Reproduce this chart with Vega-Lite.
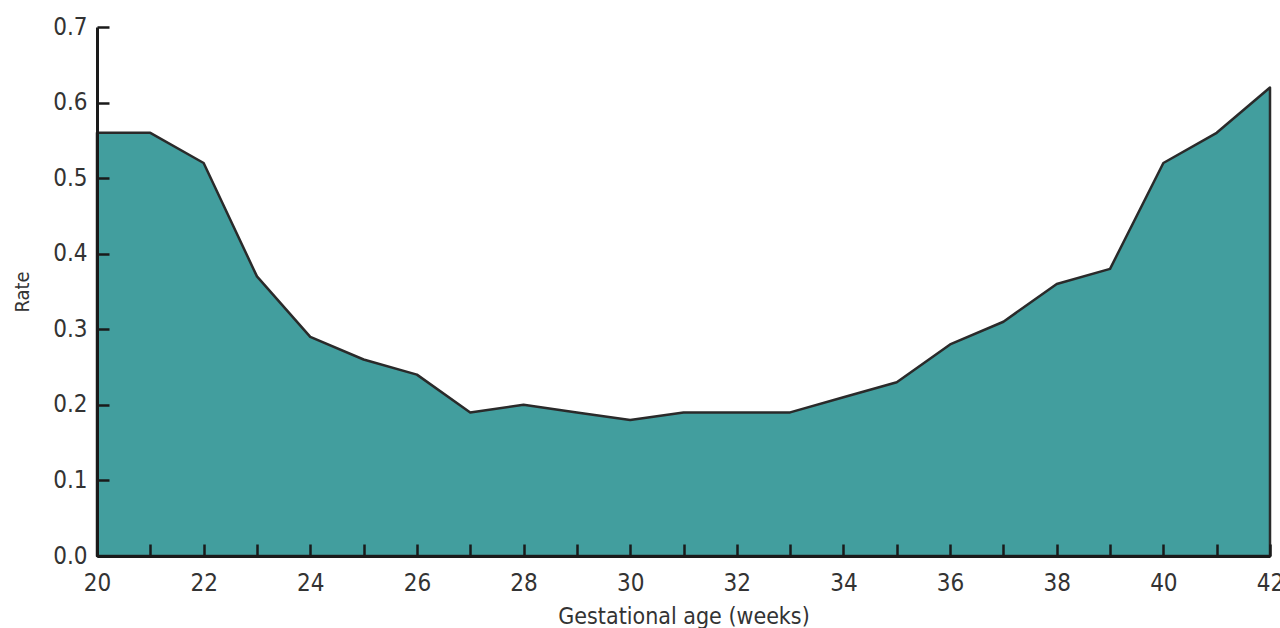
{
  "$schema": "https://vega.github.io/schema/vega-lite/v6.json",
  "width": 1173,
  "height": 529,
  "autosize": "none",
  "padding": {"left": 97, "top": 27, "right": 10, "bottom": 72},
  "background": "white",
  "config": {"view": {"stroke": null}},
  "data": {"values": [
    {"week": 20, "rate": 0.56},
    {"week": 21, "rate": 0.56},
    {"week": 22, "rate": 0.52},
    {"week": 23, "rate": 0.37},
    {"week": 24, "rate": 0.29},
    {"week": 25, "rate": 0.26},
    {"week": 26, "rate": 0.24},
    {"week": 27, "rate": 0.19},
    {"week": 28, "rate": 0.20},
    {"week": 29, "rate": 0.19},
    {"week": 30, "rate": 0.18},
    {"week": 31, "rate": 0.19},
    {"week": 32, "rate": 0.19},
    {"week": 33, "rate": 0.19},
    {"week": 34, "rate": 0.21},
    {"week": 35, "rate": 0.23},
    {"week": 36, "rate": 0.28},
    {"week": 37, "rate": 0.31},
    {"week": 38, "rate": 0.36},
    {"week": 39, "rate": 0.38},
    {"week": 40, "rate": 0.52},
    {"week": 41, "rate": 0.56},
    {"week": 42, "rate": 0.62}
  ]},
  "mark": {"type": "area", "color": "#429E9E", "stroke": "#2a2a2a", "strokeWidth": 2.5, "strokeJoin": "round", "fillOpacity": 1},
  "encoding": {
    "x": {
      "field": "week", "type": "quantitative",
      "scale": {"domain": [20, 42], "nice": false, "zero": false},
      "axis": {
        "title": "Gestational age (weeks)",
        "zindex": 1,
        "values": [20,21,22,23,24,25,26,27,28,29,30,31,32,33,34,35,36,37,38,39,40,41,42],
        "labelExpr": "datum.value % 2 === 0 ? datum.label : ''",
        "grid": false,
        "domainColor": "#1a1a1a", "domainWidth": 3,
        "tickColor": "#1a1a1a", "tickWidth": 2.5, "tickSize": -12,
        "labelFont": "DejaVu Sans Condensed", "labelFontSize": 24, "labelColor": "#333333",
        "labelPadding": 27, "labelOverlap": false, "labelFlush": false,
        "titleFont": "DejaVu Sans Condensed", "titleFontSize": 23, "titleFontWeight": "normal", "titleColor": "#333333",
        "titlePadding": 10
      }
    },
    "y": {
      "field": "rate", "type": "quantitative",
      "scale": {"domain": [0, 0.7], "nice": false},
      "axis": {
        "title": "Rate",
        "zindex": 1,
        "values": [0, 0.1, 0.2, 0.3, 0.4, 0.5, 0.6, 0.7],
        "format": ".1f",
        "grid": false,
        "domainColor": "#1a1a1a", "domainWidth": 3,
        "tickColor": "#1a1a1a", "tickWidth": 2.5, "tickSize": -12,
        "labelFont": "DejaVu Sans Condensed", "labelFontSize": 24, "labelColor": "#333333",
        "labelPadding": 22, "labelFlush": false,
        "titleFont": "DejaVu Sans Condensed", "titleFontSize": 20, "titleFontWeight": "normal", "titleColor": "#333333",
        "titlePadding": 20
      }
    }
  }
}
